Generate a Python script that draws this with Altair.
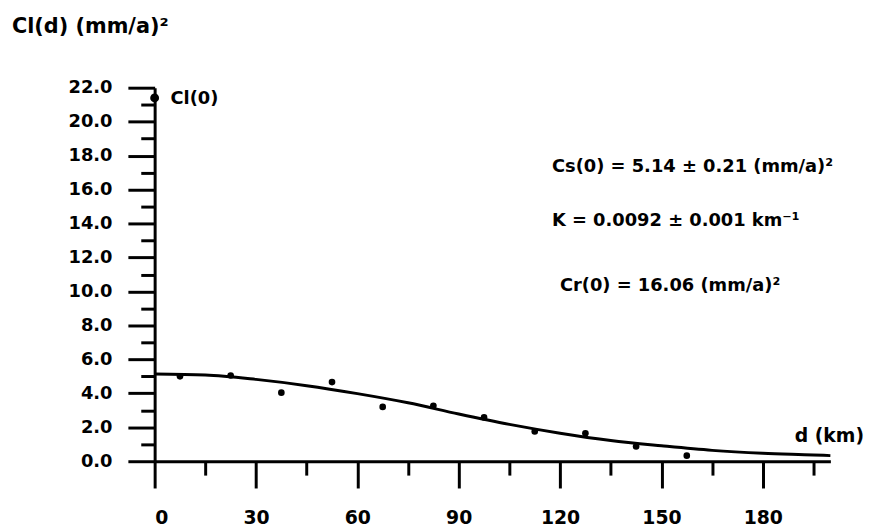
import altair as alt
import pandas as pd

# observed points
d_obs = [7.5, 22.5, 37.5, 52.5, 67.5, 82.5, 97.5, 112.5, 127.5, 142.5, 157.5]
c_obs = [5.0, 5.05, 4.04, 4.66, 3.2, 3.27, 2.58, 1.75, 1.65, 0.87, 0.33]
# Cl(0)
d_cl0 = [0]
c_cl0 = [21.4]
# fitted curve
d_fit = [0, 15, 30, 45, 60, 75, 90, 105, 120, 135, 150, 165, 180, 195, 200]
c_fit = [5.14, 5.08, 4.82, 4.45, 3.98, 3.44, 2.78, 2.17, 1.65, 1.22, 0.91, 0.64, 0.47, 0.37, 0.33]

x_major = [0, 30, 60, 90, 120, 150, 180]
x_minor = [15, 45, 75, 105, 135, 165, 195]
y_major = [0, 2, 4, 6, 8, 10, 12, 14, 16, 18, 20, 22]
y_minor = [1, 3, 5, 7, 9, 11, 13, 15, 17, 19, 21]

FONT = "DejaVu Sans"
W, H = 682, 377

obs = pd.DataFrame({"d": d_obs, "c": c_obs})
cl0 = pd.DataFrame({"d": d_cl0, "c": c_cl0})
fit = pd.DataFrame({"d": d_fit, "c": c_fit})

xs = alt.Scale(domain=[0, 200], nice=False, zero=False)
ys = alt.Scale(domain=[0, 22], nice=False, zero=False)

x_axis_major = alt.Axis(values=x_major, tickSize=27, tickWidth=3, tickColor="black",
                        domainWidth=3, domainColor="black", labelFont=FONT, labelFontSize=19,
                        labelFontWeight="bold", labelColor="black", labelPadding=21,
                        grid=False, title=None, format="d")
y_axis_major = alt.Axis(values=y_major, tickSize=27, tickWidth=3, tickColor="black",
                        domainWidth=3, domainColor="black", labelFont=FONT, labelFontSize=18,
                        labelFontWeight="bold", labelColor="black", labelPadding=16,
                        grid=False, title=None, format=".1f")
x_axis_minor = alt.Axis(values=x_minor, tickSize=14, tickWidth=3, tickColor="black",
                        domain=False, labels=False, grid=False, title=None, orient="bottom")
y_axis_minor = alt.Axis(values=y_minor, tickSize=14, tickWidth=3, tickColor="black",
                        domain=False, labels=False, grid=False, title=None, orient="left")

line = alt.Chart(fit).mark_line(color="black", strokeWidth=3, interpolate="monotone").encode(
    x=alt.X("d:Q", scale=xs, axis=x_axis_major),
    y=alt.Y("c:Q", scale=ys, axis=y_axis_major),
)
pts = alt.Chart(obs).mark_circle(color="black", size=45, opacity=1).encode(
    x=alt.X("d:Q", scale=xs, axis=x_axis_minor),
    y=alt.Y("c:Q", scale=ys, axis=y_axis_minor),
)
p0 = alt.Chart(cl0).mark_circle(color="black", size=80, opacity=1).encode(
    x=alt.X("d:Q", scale=xs, axis=None),
    y=alt.Y("c:Q", scale=ys, axis=None),
)

def label(text, x, y, size=18):
    return alt.Chart(pd.DataFrame({"t": [text]})).mark_text(
        font=FONT, fontSize=size, fontWeight="bold", color="black",
        align="left", baseline="middle"
    ).encode(text="t:N", x=alt.value(x), y=alt.value(y))

texts = [
    label("Cl(d) (mm/a)²", -144, -61, 21),
    label("Cl(0)", 16, 11, 18),
    label("Cs(0) = 5.14 ± 0.21  (mm/a)²", 401, 80, 18),
    label("K = 0.0092 ± 0.001 km⁻¹", 401, 135, 18),
    label("Cr(0) = 16.06 (mm/a)²", 409, 200, 18),
    label("d (km)", 646, 352, 19),
]

chart = alt.layer(line, pts, p0, *texts).resolve_axis(x="independent", y="independent").properties(
    width=W, height=H,
    autosize=alt.AutoSizeParams(type="none"),
    padding={"left": 148, "top": 78, "right": 41, "bottom": 70},
    view=alt.ViewBackground(stroke="transparent", strokeWidth=0),
).configure_view(stroke="transparent", strokeWidth=0).configure(background="white")

chart.save("out.html", embed_options={"renderer": "svg", "actions": False})
